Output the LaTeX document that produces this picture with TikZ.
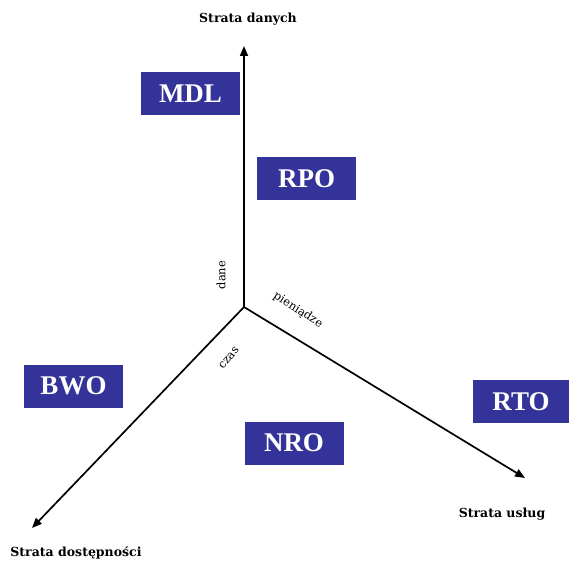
\documentclass[tikz,border=0pt]{standalone}
\usepackage{fontspec}
\setmainfont{Liberation Serif}
\newfontfamily\slabfont{DejaVu Serif}
\usetikzlibrary{arrows.meta}
\definecolor{boxblue}{RGB}{51,51,153}
\begin{document}
\begin{tikzpicture}[x=1pt,y=-1pt,
  axis/.style={line width=1.7pt,-{Triangle[length=10pt,width=8pt]}},
  lossbox/.style={fill=boxblue,text=white,font=\fontsize{27}{30}\selectfont\bfseries,
    minimum width=99pt,minimum height=43pt,inner sep=0pt},
  axistitle/.style={font=\slabfont\fontsize{12.5}{15}\selectfont\bfseries,inner sep=0pt},
  axisword/.style={font=\slabfont\fontsize{11.5}{14}\selectfont,inner sep=0pt}]
\useasboundingbox (0,0) rectangle (569,561);
% axes meeting at the origin
\coordinate (O) at (244,307);
\coordinate (up) at (244,46);
\coordinate (se) at (525,478);
\coordinate (sw) at (32,528);
\draw[axis] (O) -- (up);
\draw[axis] (O) -- (se);
\draw[axis] (O) -- (sw);
% axis titles
\node[axistitle] (tdane) at (248,19) {Strata danych};
\node[axistitle] (tdost) at (76,553) {Strata dostępności};
\node[axistitle] (tusl) at (502,514) {Strata usług};
% words along the axes
\node[axisword,rotate=90] (wdane) at (221,275) {dane};
\node[axisword,rotate=-33] (wpien) at (298,310) {pieniądze};
\node[axisword,rotate=50] (wczas) at (229,358) {czas};
% objective boxes
\node[lossbox] (mdl) at (190.5,93.5) {MDL};
\node[lossbox] (rpo) at (306.5,178.5) {RPO};
\node[lossbox] (bwo) at (73.5,386) {BWO};
\node[lossbox] (nro) at (294,443) {NRO};
\node[lossbox,minimum width=96pt] (rto) at (521,401.5) {RTO};
\end{tikzpicture}
\end{document}
